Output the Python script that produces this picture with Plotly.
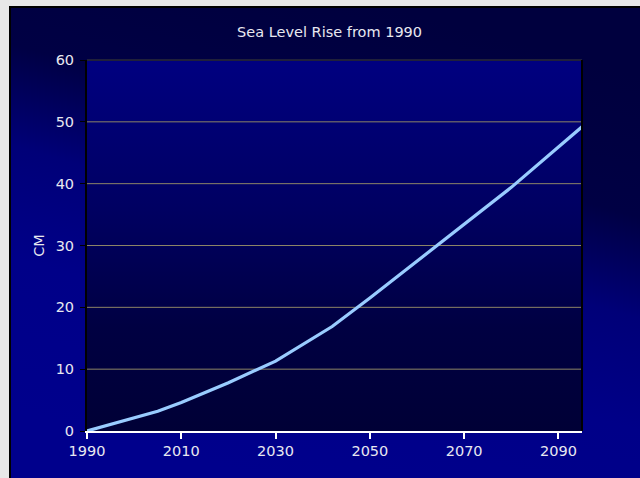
import base64
import plotly.graph_objects as go

# Projected global sea level rise since 1990 (cm)
years = [1990, 1997, 2001, 2005, 2010, 2020, 2030, 2042, 2050, 2060, 2070, 2080, 2095]
rise_cm = [0, 1.5, 2.3, 3.2, 4.6, 7.8, 11.3, 16.9, 21.5, 27.5, 33.4, 39.4, 49.2]

x_ticks = [1990, 2010, 2030, 2050, 2070, 2090]
y_ticks = [0, 10, 20, 30, 40, 50, 60]

W, H = 640, 478
L, R, T, B = 87, 582, 60, 431  # plot area in pixels
PW, PH = R - L, B - T


def svg_uri(svg):
    return "data:image/svg+xml;base64," + base64.b64encode(svg.encode()).decode()


def px_to_paper_x(px):
    return (px - L) / PW


def px_to_paper_y(py):
    return (B - py) / PH


# Chart frame: dark navy at the top fading to royal blue toward the bottom
fw, fh = W - 9, H - 6
frame_svg = f"""<svg xmlns='http://www.w3.org/2000/svg' width='{fw}' height='{fh}' viewBox='0 0 {fw} {fh}' preserveAspectRatio='none'>
<defs><linearGradient id='g' gradientUnits='userSpaceOnUse' x1='380' y1='0' x2='250' y2='{fh}'>
<stop offset='0' stop-color='#00003e'/>
<stop offset='0.28' stop-color='#000044'/>
<stop offset='0.48' stop-color='#000078'/>
<stop offset='0.7' stop-color='#000088'/>
<stop offset='1' stop-color='#00008c'/>
</linearGradient></defs>
<rect x='0' y='0' width='{fw}' height='{fh}' fill='url(#g)'/>
<line x1='1' y1='0' x2='1' y2='{fh}' stroke='#000000' stroke-width='2'/>
<line x1='0' y1='1' x2='{fw}' y2='1' stroke='#000000' stroke-width='2'/>
</svg>"""

# Plot area: blue at the top darkening toward the baseline
plot_svg = f"""<svg xmlns='http://www.w3.org/2000/svg' width='{PW}' height='{PH}' viewBox='0 0 {PW} {PH}' preserveAspectRatio='none'>
<defs><linearGradient id='p' x1='0' y1='0' x2='0' y2='1'>
<stop offset='0' stop-color='#000080'/>
<stop offset='0.4' stop-color='#000062'/>
<stop offset='0.72' stop-color='#000042'/>
<stop offset='1' stop-color='#000036'/>
</linearGradient></defs>
<rect x='0' y='0' width='{PW}' height='{PH}' fill='url(#p)'/>
</svg>"""

text_color = "#e8e8f0"
font_family = "DejaVu Sans, Verdana, sans-serif"
grid_color = "#8c8466"

fig = go.Figure()
fig.add_trace(go.Scatter(
    x=years, y=rise_cm, mode="lines",
    line=dict(color="#99ccff", width=3.2),
    hoverinfo="x+y", showlegend=False,
))

# Horizontal gridlines at the inner y ticks, beneath the data line
grid_shapes = [
    dict(type="line", xref="paper", yref="y", x0=0, x1=1, y0=v, y1=v,
         line=dict(color=grid_color, width=1), layer="below")
    for v in y_ticks[1:-1]
]

fig.update_layout(
    width=W, height=H,
    margin=dict(l=L, r=W - R, t=T, b=H - B),
    paper_bgcolor="#e8e8e8",
    plot_bgcolor="rgba(0,0,0,0)",
    font=dict(family=font_family, size=14.5, color=text_color),
    title=dict(text="Sea Level Rise from 1990", x=0.515, xanchor="center",
               y=1 - 32 / H, yanchor="middle",
               font=dict(size=14.5, color=text_color)),
    images=[
        dict(source=svg_uri(frame_svg), xref="paper", yref="paper",
             x=px_to_paper_x(9), y=px_to_paper_y(6),
             sizex=fw / PW, sizey=fh / PH, sizing="stretch",
             xanchor="left", yanchor="top", layer="below"),
        dict(source=svg_uri(plot_svg), xref="paper", yref="paper",
             x=0, y=1, sizex=1, sizey=1, sizing="stretch",
             xanchor="left", yanchor="top", layer="below"),
    ],
    xaxis=dict(
        range=[1990, 2095], tickvals=x_ticks, ticktext=[str(v) for v in x_ticks],
        showgrid=False, zeroline=False,
        showline=True, linecolor="#ffffff", linewidth=2,
        ticks="outside", tickcolor="#ffffff", ticklen=6, tickwidth=2,
        tickfont=dict(color=text_color, size=14.5),
        ticklabelstandoff=0,
    ),
    yaxis=dict(
        range=[0, 60], tickvals=y_ticks, ticktext=[str(v) for v in y_ticks],
        showgrid=False, zeroline=False,
        showline=True, linecolor="#000000", linewidth=2,
        ticks="outside", tickcolor="#000000", ticklen=5, tickwidth=1,
        tickfont=dict(color=text_color, size=14.5),
        ticklabelstandoff=3,
        title=dict(text="CM", standoff=8, font=dict(color=text_color, size=14.5)),
    ),
    shapes=grid_shapes + [
        dict(type="line", xref="paper", yref="paper", x0=0, x1=1, y0=1, y1=1,
             line=dict(color="#20203a", width=2), layer="above"),
        dict(type="line", xref="paper", yref="paper", x0=1, x1=1, y0=0, y1=1,
             line=dict(color="#000000", width=2), layer="above"),
    ],
)

fig.write_html("out.html")
